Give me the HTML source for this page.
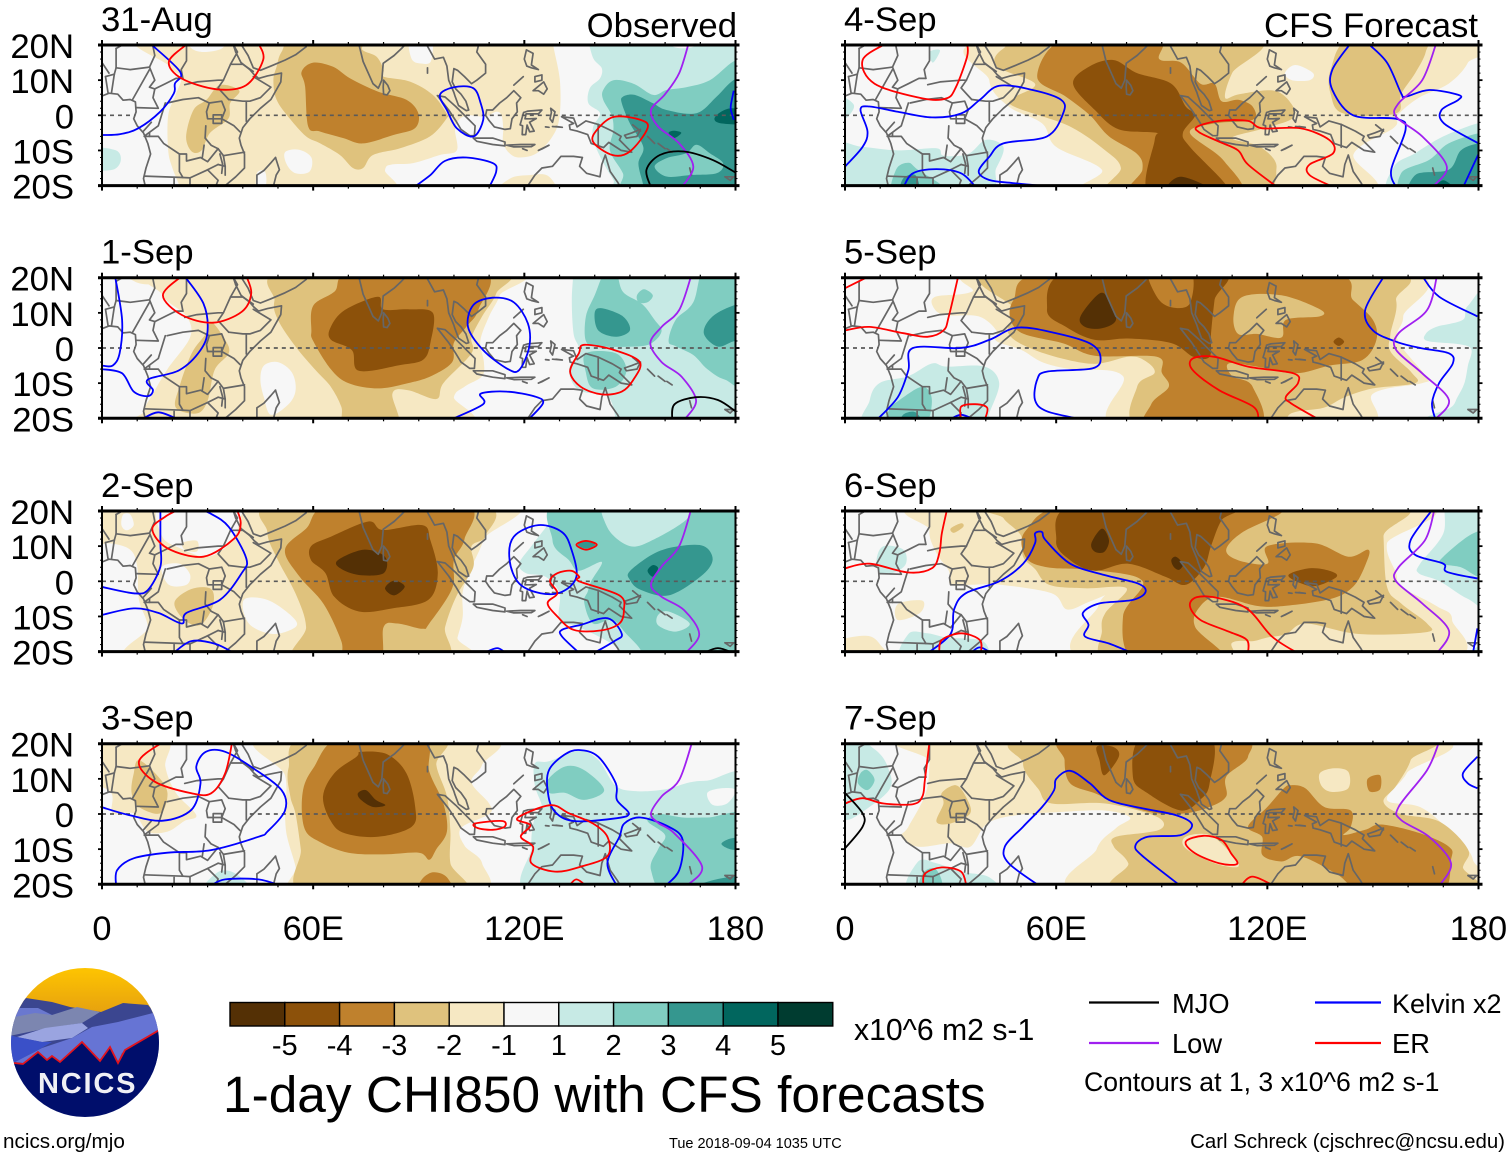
<!DOCTYPE html>
<html lang="en">
<head>
<meta charset="utf-8">
<title>1-day CHI850 with CFS forecasts</title>
<style>
html,body{margin:0;padding:0;background:#fff;width:1510px;height:1158px;overflow:hidden}
svg{display:block}
text{font-family:"Liberation Sans",Arial,sans-serif;fill:#000}
</style>
</head>
<body>
<svg id="chart" xmlns="http://www.w3.org/2000/svg" width="1510" height="1158" viewBox="0 0 1510 1158">
  <defs>
    <linearGradient id="sunGrad" x1="0" y1="0" x2="0" y2="1">
      <stop offset="0" stop-color="#ffc600"/><stop offset="1" stop-color="#e59f10"/>
    </linearGradient>
    <clipPath id="logoClip"><ellipse cx="85" cy="1042.5" rx="74" ry="74.5"/></clipPath>
  </defs>
  <g id="panels"></g>
  <g id="xlabels"></g>
  <text x="737" y="37" font-size="34.7" text-anchor="end">Observed</text>
  <text x="1478" y="37" font-size="34.7" text-anchor="end">CFS Forecast</text>

  <g clip-path="url(#logoClip)">
    <rect x="10" y="966" width="151" height="50" fill="url(#sunGrad)"/>
    <polygon fill="#3b4690" points="26,998 52,1002 70,1007 101,1012 123,1003 148,1005 161,1020 161,1075 9,1075 9,1015"/>
    <polygon fill="#6a78cf" points="18,1008 38,1008 52,1015 25,1017 10,1019"/>
    <polygon fill="#7c86b0" points="9,1018 35,1013 52,1015 77,1007 100,1012 82,1023 48,1028 9,1036"/>
    <polygon fill="#9aa4e0" points="17,1037 45,1028 82,1023 88,1028 72,1038 42,1042"/>
    <polygon fill="#6674d4" points="153,1013 161,1030 122,1053 118,1062 110,1047 100,1060 82,1042 60,1062 52,1057 47,1060 38,1052 23,1063 15,1062 42,1048 72,1038 92,1027 118,1022"/>
    <polygon fill="#3a50c8" points="9,1035 17,1037 42,1042 52,1042 38,1050 15,1062 9,1062"/>
    <polygon fill="#000e6b" points="9,1063 23,1064 38,1052 47,1060 52,1056 60,1062 82,1042 100,1061 110,1047 118,1063 125,1050 161,1029 161,1120 9,1120"/>
    <polyline fill="none" stroke="#e2141e" stroke-width="1.8" points="14,1063 23,1064 38,1052 47,1060 52,1056 60,1062 82,1042 100,1061 110,1047 118,1063 125,1050 161,1029"/>
    <text x="38" y="1093" font-size="29" font-weight="bold" letter-spacing="1.8" style="fill:#f0f0f5">NCICS</text>
  </g>

  <g id="colorbar"></g>
  <text x="854" y="1040" font-size="30.2">x10^6 m2 s-1</text>
  <text x="223" y="1112" font-size="51.4">1-day CHI850 with CFS forecasts</text>

  <g>
    <line x1="1089" y1="1002.5" x2="1159" y2="1002.5" stroke="#000" stroke-width="2.2"/>
    <text x="1172" y="1013" font-size="27.3">MJO</text>
    <line x1="1315" y1="1002.5" x2="1381" y2="1002.5" stroke="#0000ff" stroke-width="2.2"/>
    <text x="1392" y="1013" font-size="27">Kelvin x2</text>
    <line x1="1089" y1="1043" x2="1159" y2="1043" stroke="#a020f0" stroke-width="2.2"/>
    <text x="1172" y="1053" font-size="27.3">Low</text>
    <line x1="1315" y1="1043" x2="1381" y2="1043" stroke="#ff0000" stroke-width="2.2"/>
    <text x="1392" y="1053" font-size="27.3">ER</text>
    <text x="1084" y="1091" font-size="26.6">Contours at 1, 3 x10^6 m2 s-1</text>
  </g>

  <text x="3" y="1148" font-size="20.7">ncics.org/mjo</text>
  <text x="669" y="1148" font-size="14.5">Tue 2018-09-04 1035 UTC</text>
  <text x="1505" y="1148" font-size="20.45" text-anchor="end">Carl Schreck (cjschrec@ncsu.edu)</text>
</svg>

<script>
/* ---- categories & axis values ---- */
const panelLabels = ['31-Aug','1-Sep','2-Sep','3-Sep','4-Sep','5-Sep','6-Sep','7-Sep'];
const lonLabels = [[0,'0'],[60,'60E'],[120,'120E'],[180,'180']];
const latLabels = [[20,'20N'],[10,'10N'],[0,'0'],[-10,'10S'],[-20,'20S']];
const colorLevels = ['#543005','#8c510a','#bf812d','#dfc27d','#f6e8c3','#f7f7f7','#c7eae5','#80cdc1','#35978f','#01665e','#003c30'];
const colorbarLabels = ['-5','-4','-3','-2','-1','1','2','3','4','5'];
const modeColors = {mjo:'#000000',kelvin:'#0000ff',low:'#a020f0',er:'#ff0000'};
const equatorSegments = [[0,9.5],[42,180]];

/* ---- shaded regions: [colour level, [lon,lat,...]] drawn in order ---- */
const shadeAug31 = [
 [6,[-3,-9.5,4,-10,5.3,-13,3,-15.5,-3,-15]],
 [4,[16,24,19,14,22.5,11,21,6,18.8,0,18.8,-10,20,-15,22,-20,23,-23,80,-23,80.4,-15.6,82.3,-14,88.4,-13.6,96,-11.3,100.8,-10,100.3,-4,101.7,-1,104.5,0,108.8,-0.4,112,1,113.5,0,114,-3.7,114,-8,116,-11,118.8,-12,123.5,-10.8,128,-6,130,-0.4,130.1,10,128.2,20,128,24]],
 [5,[24.5,22,25.5,19,29,18,34,19,35,22]],
 [5,[87.5,22,88,16,91,14.7,93.5,15.5,93.5,22]],
 [5,[52,-10.5,56,-9.8,59.5,-12,59,-16,55,-16.5,52.5,-14]],
 [5,[44,-16.5,46.3,-16,46.5,-20,44,-22]],
 [4,[115.9,-18,121.6,-17,126.3,-17,129,-20,130,-23,112,-23]],
 [3,[55,22,51,18,49.6,13.8,48.7,10,49.6,4.4,53.4,-1,58,-6,62,-8,67.6,-11.3,71.3,-15,74.2,-15,77,-11.3,84.7,-9.4,93.2,-6,97.9,-0.9,97.9,0.5,94,5.8,87.5,9.6,80,11,80,13,78,16.7,74,18.6,73,22]],
 [3,[33.5,8.6,39,7,36.4,3.4,35.9,-1,30.7,-5,28.3,-10,25.5,-10.3,23.9,-6,26,1.5,29.7,4.4]],
 [2,[56.7,12.4,60,15,65.7,13.8,70.5,10.5,78.5,6.7,86.5,4.4,89.9,0.5,88.9,-3.7,82.8,-5.6,74.2,-8,68.6,-6.5,61.9,-4.6,58.6,-3.2,57.7,8.2]],
 [6,[138,22,139.6,16.2,142,13.4,141.5,10.5,138.6,7.7,138.2,3.4,141.5,0.6,139.6,-3.2,139.6,-7,142,-12.7,145.3,-18.4,148,-23,185,-24,185,24,138,24]],
 [5,[159,22,163,19.3,168,19.5,170,22]],
 [7,[185,17,179.4,15.3,172.7,10,166,8,160.4,7.2,156.6,5.8,151,9,145.3,10,142.4,7.2,142.4,4.4,144.8,0,145.3,-4.2,144.3,-10,148,-16.5,150,-23,185,-24]],
 [8,[148,5.3,151.4,5.8,156.6,3.4,160.4,1.5,168.9,0.6,174.6,5.3,179.4,10,185,12,185,-24,154,-24,153.8,-20,152.4,-13.7,153.8,-9,150,-2.3,147.7,3.4]],
 [7,[157,-14.6,160.4,-12.2,166,-10.8,168.9,-8.4,172.7,-10.8,176.5,-13.7,174.6,-16.5,167,-17,160.4,-17.4]],
 [9,[161,-5,162.5,-4.4,164.6,-5,162.5,-6.5]],
 [9,[174,-1,175.9,1,179,2,183,1,183,-2.3,175.9,-2.3]]
];
const shade1Sep = [
 [4,[20,22,17.3,15,24,9,25,3,18.6,-6,14.5,-13,12,-18,14,-23,100,-23,100,-14,103,-11,108,-8,108.5,-4,107.5,2,110,9,113,15,114,22]],
 [4,[6,22,10,18.6,15,18.5,17,22]],
 [5,[46,-5,50,-4,54,-7,55,-12,53,-16,48,-19,46,-14,45,-9]],
 [3,[52.6,22,49,13.5,50,8,55,0.4,60.7,-6.3,65,-11,68,-16.7,69.5,-23,84,-23,82.5,-13,87,-12,95,-14.5,97,-10,105,-1.5,105,3,108,9,112,15.5,112,22]],
 [3,[31,7.5,35,2.3,36,-1.5,32,-6.3,30,-15,27,-18.6,21,-17,22,-11,25.5,-1.5,29.5,4]],
 [2,[72,22,66,16,60,12,59.5,5,60,2,65,-6,70,-10,78.5,-11.5,87,-10,93.5,-8,99.5,-4,100,1.5,103.5,6,107,11,108,22]],
 [1,[65,6,69,10.8,78.4,14.6,79.8,11,87,11,94,10,93.3,1.5,91.3,-3.3,85,-4.8,73,-6.5,71,-0.6,65,2.4]],
 [6,[134,22,133.5,13.6,134,4,135.5,-0.6,132.7,-6.3,135.5,-12,143.6,-13.8,146,-20,147,-24,185,-24,185,24,134,24]],
 [7,[143,22,140,15,137.5,9,137.5,2,141,0.5,153,0.5,157,2,159,5,157,8,153.5,12.5,148,16,146,22]],
 [7,[152,15,154,16.7,156.5,15,155,13,152.5,13]],
 [7,[172,24,168,13,163,8,161,2,163,0.5,168,-2,172,-6,177,-9,185,-10,185,24]],
 [7,[137.5,-1.5,146,-1.5,149,-6.3,146,-11,139.5,-11.5,137.5,-7]],
 [8,[140,10,142,11.3,148,9,150,5,146,3.2,141,5]],
 [8,[185,13,180,12.3,173.5,9,171,4.2,175,0.4,180,2,185,1]]
];
const shade2Sep = [
 [4,[-4,24,-4,11,2.3,10.8,8,9,10,4.2,10.5,-5.3,13,-13,12,-23,99,-23,101,-16,102.5,-10,102.5,-3,105,4,108.5,12,112,24]],
 [5,[17,22,17,13,22,9.5,30,7,36.5,11,39,17,38,22]],
 [4,[23,11,27,11.5,27,8.5,23.5,9]],
 [5,[17,4,22,5,25,2,24,-1,19,-1]],
 [5,[6,19,8,19,9,16,7,14.5,5.5,16]],
 [5,[40.3,-5.3,47,-5.3,54,-10,55,-13,48.5,-15,41.7,-12]],
 [3,[50,22,47,14,50,6,55,-3.5,58,-13,56,-23,96,-23,97.5,-13,100.8,-4,105.5,4,105,10,109,13,107,22]],
 [3,[20.6,-6,25.4,-2.2,31,-2.2,31.5,-7,28,-12.4,23.4,-11]],
 [2,[66,22,58,15,52,9,56,1.5,63,-6.5,68,-17,69,-23,79,-23,80,-13,84,-12,91,-13.5,93,-12,99.5,-2,100,6,103,12,103,22]],
 [1,[59.4,10,65,12.7,75.7,17,79.8,14.6,91,16,93.3,11.7,95.4,2.3,92.7,-5.3,82.5,-7.7,73,-8.6,66,-4.4,63.5,2.3,59.4,6]],
 [0,[67,6,74.3,9,80.4,7,80,2.3,73,1.8,67.7,3.7]],
 [0,[80.4,-2,83,0.2,86,-1.5,83,-4]],
 [6,[131,22,127,16.5,122,10,118.5,5,120.5,2.3,126,1.3,130,-3.4,130,-11,135.5,-13,146,-18.6,149,-24,185,-24,185,24,131,24]],
 [7,[132,24,128,11.7,132.7,6,135.5,3,142,5.5,139,0,138,-3,137,-6,139.5,-12,145,-11,149,-15,153,-19.5,154,-24,185,-24,185,24]],
 [6,[144,24,143.5,15.5,150,10,157,12,166,17.5,168,22,168,24]],
 [6,[158,-9.6,161,-8.6,167,-12,163,-14.3,158,-12.5]],
 [8,[150,2.9,157,8,164,10,171,10,173.5,6,170,1.3,161,-4,153,-2.4,150,0.4]],
 [9,[155,3,156.5,4.6,158,3.7,156.5,1.3]],
 [8,[135.2,10.4,137.5,11.5,140.2,10.4,137.5,9.3]]
];
const shade3Sep = [
 [4,[-4,24,18,22,18,13.5,21,6,26.8,-0.3,23.4,-2,18.6,-5,13,-5,9,0.2,3,0.2,2.6,6,-4,11]],
 [3,[10.5,15.3,16,10.6,18.6,5.9,16.6,0.2,10.5,2,8.4,6,9,11.5]],
 [4,[46,22,52,11,52,0,52.6,-6.5,55,-15,56.5,-23,106,-23,108,-14,103,-9,102,-4,110,0,110,3,105,9,108,14,109,22]],
 [3,[58,22,53,13,53.5,5,55,0,56.5,-10,58,-23,102,-23,99,-14,99,-5,98,5,95,14,96,22]],
 [2,[68,22,60,13,57,6,57.5,-4,62,-8,70,-11,80,-11.5,90,-11,93,-13,95,-10,98,-5,97,3,93,12,91,22]],
 [1,[73.6,17.7,81,17,86.5,11.6,89,2,88,-3.6,78.4,-6.5,69,-5.5,65,-2,62.8,5,66,11.6,72.3,16.3]],
 [0,[72.7,5.9,75,6.8,77.8,4,80.5,2.5,77,2,73.6,4]],
 [2,[90.6,-19,94,-16.6,98,-18,99.5,-23,90,-23]],
 [6,[123,14.4,127,15,135.5,18,141,15.4,146,8,152,6.5,160,7,167,9,172,9.5,185,10,185,-24,124,-24,122,-9.4,123,-0.8,125,2,123,8]],
 [5,[172,6,173.5,2.6,177.6,3,180,6.8,176,7.3]],
 [7,[126.6,9.6,131.6,13.5,137,12.5,142.7,6.8,137,4,131.6,6,127,6]],
 [7,[158,0,165,-1,172,-1,185,-1,185,-24,162,-24,156,-16,158,-10,160,-6,155,-2]],
 [6,[29,-22,33,-16.5,38,-17,42,-22]],
 [8,[176,-8.5,178.5,-7,182,-7,182,-10,178.5,-10]],
 [8,[167,-22,175,-18.5,185,-18,185,-24]]
];
const shade4Sep = [
 [4,[45,22,41,10,46.5,2.5,56,-2.3,60,-9,73,-15.5,70,-23,147,-23,144.5,-11,156,-3.5,157,0,163,5,171.5,9,177,15,178,22]],
 [5,[125,12,128,14.3,133,12,132,10,127,10]],
 [3,[55,22,45,19,43,14,54,9,48,5,48,2.5,63.5,-3,73.7,-9.8,78.4,-15,75.7,-23,116,-23,122.6,-15,118,-9,110,-6.5,118,-4,127,-1,127,3,122,7,112,6,108,5,110,12,116,22]],
 [3,[143.7,22,138,13,138,6,141.7,0.5,156.5,0.5,158,6,162,12,165,18,164,22]],
 [2,[62.8,22,54.6,11,62.8,5.3,69.6,0,75,-6,83,-11,84.5,-15.5,81.8,-23,111.7,-23,107.7,-13,98,-5,105,-2.3,115.8,-1.3,115.8,2.5,111.7,4.4,107,4,105,9,101,9,95.5,15,89.3,16,88.6,22]],
 [1,[64.8,9,69.6,14,76.4,15.7,83,12,92.7,9,96.8,2.5,99.5,0,96,-5,98,-9,108,-19.5,108,-23,86.6,-23,88,-7,88.6,-5,77.8,-4,71,1.5]],
 [0,[91.4,-21,95.4,-17.5,103.6,-21,97,-23]],
 [6,[-3,-8.5,5,-9,15,-10,26,-9.4,28,-11.5,35,-11,40,-7,45,-9,43,-15,38,-23,-3,-23]],
 [7,[14.5,-15.5,18,-13.5,20.7,-15.5,27.5,-20,28,-23,14,-23]],
 [8,[16.5,-18,20,-17,21,-22,16,-22]],
 [6,[24,18,27,18.5,25,15]],
 [6,[-3,6,2.5,3,0,-1,-3,0]],
 [6,[156,-23,156,-14.6,162,-10.8,170,-6,180,-2.2,185,-2,185,-24]],
 [7,[158,-16.5,166,-12.7,171.5,-8,180.4,-5,185,-5,185,-24,160,-24]],
 [8,[162,-17,171.5,-15.5,175,-10,180,-8,185,-8,185,-24,162,-24]],
 [9,[167.5,-21,170,-18.5,173,-21]]
];
const shade5Sep = [
 [4,[43,22,36,16,25.5,14.5,25.5,11,29,9.3,38,9,43,5,43,2,50,-0.5,56,-4,64,-6,79,-8,78.4,-23,145.7,-23,150,-13,164,-10,165,-8,157,2.3,158.6,9,157,22]],
 [3,[45,22,48,11,46.5,4,55,-1,70,-4.5,80.5,-2.5,85,-3.5,88,-7,83,-11,84,-23,120,-23,127,-18.5,136,-17,142,-14,150,-11.5,162,-10,161,-7,155,-1,155,4,156.6,13.6,151,22]],
 [2,[60,22,47.8,13.5,49,5,62,1.3,71,-2.2,88.6,-2.5,90,-7,92,-11,87,-16,87,-23,117,-23,115.8,-11,110,-8,109,-4.4,117,-5.3,128,-7.2,137.6,-5,147,-3.4,151,2.3,150,8,144.4,13.6,134.8,22]],
 [3,[110.4,9,113,14.6,124,15,134.9,11,134.9,9,125.3,8,124,3,117,4,111.7,4]],
 [1,[64,22,57.4,11,62.8,6,71,2.3,80.5,2.7,92.7,1.4,99,-2.5,103.6,-2.5,104,4,105,13.6,106.3,22]],
 [2,[86.6,22,88.6,14.6,92.7,11.6,98,12.7,98,22]],
 [0,[66.9,9,72.3,15.5,75,13.6,77,8,73,5.6,68.2,6]],
 [1,[138.8,1.8,140.3,3,141.8,1.8,140.3,0.6]],
 [6,[7,-15,9.8,-10,18,-8,24.7,-4.4,28.8,-5.3,39.7,-5.3,43.8,-10,41,-18.6,39.7,-23,7,-23]],
 [7,[12.5,-17.6,15.2,-15,22,-11,24.7,-15,22,-23,12,-23]],
 [8,[16.5,-19,20,-18.3,22,-22,16,-22]],
 [6,[185,17,177,12,175.5,8,168,6,165,4,165.5,2,175,1,178,-0.5,177,-5,176,-10,174,-14,172,-17,165,-20,165,-24,185,-24]]
];
const shade6Sep = [
 [4,[28,22,24,14.6,26,8,29.5,3,30,-1,36,-1,44,-1,58.7,-3.4,63,-8,69,-6,76,-3,77,-2,72,-7,71,-23,168,-23,172.5,-11,168,-7,158,-1.5,156.6,2.3,154,10.8,160,22]],
 [4,[15,-6.5,22,-5.5,21.3,-9,15,-11]],
 [4,[-3,-23,-3,-17.5,6,-15.5,10,-18,12,-23]],
 [3,[30,15,33,16.5,33.6,15.5,31,13.8]],
 [3,[45,22,45,18,50,13,50.6,7,54,3.5,58,-1,68,-2,80,-2,74,-9,73,-14,75,-23,108,-23,110,-17.5,116,-17,120,-16,125.4,-15,131,-12,146,-15,165,-14.5,165.4,-12,158,-6.3,154,-1.5,153,12.7,152.6,22]],
 [2,[65.5,22,51.5,14.6,51.3,7,57.4,4,71,3.2,84.6,0,79,-10,83,-23,108,-23,99.5,-13,101,-7,106.3,-4.4,117,-7,125,-7,138,-5,144.4,-1.5,148,5,148.7,9,143,7,133.5,10.8,120,10,120,5,111.7,6,108.3,9,113,14,124,19.5,121.3,22]],
 [1,[66,22,60,11.7,64,6,71,3,80.5,5,91,1.3,96.8,-1,102,4,104,10,107,17.4,111.7,22]],
 [0,[70,10.8,73,15,75,11.7,73.7,8.4,71,8.4]],
 [0,[92.7,6,94,7,96,5,95,3.3,93.5,4]],
 [1,[126,1.8,132,3.7,137.6,3,139.7,1.3,134,-1.3,129.6,-0.6]],
 [6,[9,6.5,11,10,16.6,9,17.3,5,14,2.5,9.8,2.5]],
 [6,[18,-15,23.4,-14.8,29,-16,38.3,-16.7,41,-19.5,42,-23,17,-23]],
 [6,[171.6,24,170,13.6,163.4,5,163,2.3,169,0,177,-5,185,-7,185,24]],
 [7,[178.4,13.6,170,7,169.4,5,175,4,180,1.3,185,1,185,14]],
 [6,[176,-23,179,-19,182,-19,182,-23]]
];
const shade7Sep = [
 [4,[24,22,24,15,23,6,18,-3.6,16,-6.5,20.7,-9.3,30,-8.3,35.6,-9.3,40.4,-2.7,49,-0.3,60,0.5,73.7,1,81,-1,77,-4,71.5,-10,70,-23,175,-23,178.4,-13,171.5,-4.5,163.4,2,154,4,159.6,11.6,163.4,22]],
 [3,[56,22,50.6,14.4,55,7,58.7,3,74,3,88.6,-0.8,89.3,-4.5,77,-6.5,76.4,-9.3,80.5,-14,82,-23,173,-23,175.6,-15,177,-10,169,-2.2,158,0,153,3.5,156.6,8,160.7,15.3,160.7,22]],
 [3,[27.5,6,31.5,8.2,34.3,5,35.6,0.2,30,-2.7,26,-2.2,28,3]],
 [4,[134.9,11.6,139,13,143,12,143,7.3,138.2,6.3,135.4,8]],
 [4,[96.8,-6.5,103.6,-6,109.7,-11.2,111.7,-15,105,-14,96.8,-9.8]],
 [2,[148.5,10,152,11,152,7,149,6.5]],
 [2,[64,22,62.4,15.3,64,8.7,71,5.9,77.8,3,88.6,0.2,96.8,0.2,103.6,2,108.3,5,108.3,10.6,114.5,16.3,110.4,22]],
 [1,[71.6,19.2,76.4,19,77.8,16.3,73.7,11,72.3,15.3]],
 [1,[84.6,22,81.8,10.6,86,5.9,95.4,1,100.9,4,103.6,8.7,103.6,22]],
 [2,[126.7,8.2,130.8,7.3,136.2,2,143.7,1,143.7,-3.7,141.7,-6,147.8,-4.5,152.5,-3,163.4,-5.5,171.6,-9.3,172.2,-13,168.8,-23,148.5,-23,139.6,-17,129.4,-12,124,-13.5,118.6,-11.7,118.5,-6.5,114.5,-3.6,120,2,124.7,7.3]],
 [6,[-3,24,8.4,18.4,12.5,12.5,12.5,6.8,4.4,0.2,0.3,-1.7,-3,0]],
 [7,[4.4,11.6,6.4,12.5,8.4,9.7,6.4,6.8,3.7,8.7]],
 [6,[18.6,-23,20.7,-13.6,26,-14,33,-16.4,41,-18,43,-23]],
 [7,[22,-17,25.4,-15.5,27.5,-19,27,-23,21,-23]]
];

/* ---- contours: [mode, closed, [lon,lat,...]] ---- */
const contourAug31 = [
 ['kelvin',0,[0,-5.6,5,-5.4,10.3,-3.7,16.5,1,20.4,6.2,20.7,9,22.2,12.4,13.6,20.5]],
 ['kelvin',1,[96,5.8,100,8,105.5,7.7,107.6,3.4,108.3,-1.3,105.6,-6,100.8,-3.7,98,1.5]],
 ['kelvin',0,[88.6,-20.5,93.3,-17,97.4,-13,103.5,-12,111,-13.6,112,-16,110,-20.5]],
 ['kelvin',0,[179.5,7,178.7,3,178.7,1.5,179.5,-1.3]],
 ['er',0,[24.5,20.5,19,15.3,22.6,10.5,32.6,7.4,41,8.6,45.8,15.8,44.4,20.5]],
 ['er',1,[145.6,-0.4,153,-1.3,155,-3.7,150,-10.3,145,-11.3,139.5,-7.5,141,-3.7]],
 ['low',0,[166.7,20.5,164,12,160,6,156,1.5,158,-3.2,164,-8,168,-14.6,164.7,-20.5]],
 ['mjo',0,[156,-20.5,154.7,-15.5,158.5,-11.3,165.4,-10.3,173.5,-12.7,180,-16.3]]
];
const contour1Sep = [
 ['kelvin',0,[3.7,20.5,5.7,8,5,-1.5,3,-5,0,-5]],
 ['kelvin',0,[0,-6,5.7,-7.2,9,-12.4,13,-13.7,14.5,-12,13,-9,22,-6.3,28,-0.6,30,5,28.8,12.7,23.4,20.5]],
 ['kelvin',0,[11,-20.5,16,-18.3,22,-20.5]],
 ['kelvin',1,[111,14.3,117,13,121,7,121.4,0.4,118.5,-6.3,115,-5.8,108.3,-0.6,104,6,105.5,12.2]],
 ['kelvin',0,[98.8,-20.5,108.3,-16,107.6,-13,115,-12.4,123,-13.8,125.3,-15.7,121,-20.5]],
 ['er',0,[22.7,20.5,17.3,15,22.7,9.4,31.5,7.2,39.7,10.3,42.4,15.5,41,20.5]],
 ['er',1,[137,0.9,145.6,-0.6,152.8,-4,151,-9,147.7,-12.4,142,-13.2,136,-11,133,-6.7,135.5,-1.5]],
 ['low',0,[167.4,20.5,164,10.8,159,6,155.8,1.3,159,-4,164.7,-8.2,168.8,-15,165.4,-20.5]],
 ['mjo',0,[162,-20.5,162.7,-16,168.8,-14,175,-14.8,180,-18]]
];
const contour2Sep = [
 ['kelvin',0,[16.6,20.5,16.6,10.8,16.6,4.2,13,-2.5,9,-3.4,0,-1.6]],
 ['kelvin',0,[0,-9.6,9,-7.7,16,-9,22.7,-12,24,-9,33.5,-5.3,39.7,2.3,41,6.5,36,15.5,30.8,19.3,27.4,20.5]],
 ['kelvin',0,[20.2,-20.5,25.4,-17,32.2,-17.8,37.6,-20.5]],
 ['kelvin',1,[124,16,130.7,14,133.4,9,134.8,1.3,130.7,-3,124.6,-3.4,118.5,-0.6,115.8,6,117,12.7]],
 ['kelvin',0,[135.7,-20.5,130.7,-15.7,130.7,-13.8,136,-12.4,143.7,-10.5,147.7,-15,145.6,-17,139.6,-20.5]],
 ['kelvin',0,[108.3,-20.5,112.3,-19,114.8,-20.5]],
 ['er',0,[22,20.5,18,18.4,14.3,14.8,18.6,9.4,28.8,7,37.6,12.2,39.4,16.5,38.3,20.5]],
 ['er',1,[127.3,0,129.4,2.3,133.4,3,135.6,1.3,135.6,0,147,-4,148.3,-8.2,147,-12,141.6,-14,134,-13.8,129.4,-10,126.6,-6.2,129.4,-3.4]],
 ['er',1,[134.8,10.4,137.5,11.5,140.6,10.4,137.5,9]],
 ['low',0,[167.4,20.5,164,10,159,4.2,156,-1,159,-4.4,165.4,-8.2,169.7,-15,165.8,-20.5]],
 ['mjo',0,[170.8,-20.5,175,-19,179.6,-20.5]]
];
const contour3Sep = [
 ['kelvin',0,[0,1.9,7.7,-0.3,17.3,-1.9,25.4,1.2,28,8.7,26.8,13.5,29.5,17.7,35,17.7,43,13,51,6.8,52,1,47,-5,44.4,-6.5,30.8,-10.3,18.6,-11,9,-12.6,4.3,-16,4,-20.5]],
 ['kelvin',0,[30.8,-20.5,35,-18.6,44.4,-18.6,51,-20.5]],
 ['kelvin',1,[135.5,18.2,141,16.3,146,8.7,146.3,4,149.7,0.2,146.3,-1.2,134,-2,128.4,1,126.6,6.8,127,12.5,131.3,16.8]],
 ['kelvin',0,[146.3,-20.5,143.6,-14,147,-6.5,148.4,-2.7,153,-1,161,-3.6,165,-7.4,164,-16,160,-20.5]],
 ['er',0,[17.3,20.5,10.5,15,15,9.2,25.4,5.9,31,5.9,35,11.6,37,20.5]],
 ['er',1,[106,-2.7,113.7,-2,114.4,-3.6,111,-4.5,106.8,-4]],
 ['er',1,[118,-1.2,127.3,2.5,132.7,0.2,139.5,-2.7,143.6,-6.5,143.6,-12,136,-15,128.7,-16.4,122,-14,122.5,-9.3,119,-6.5,121.7,-3.2]],
 ['er',0,[132.7,-20.5,134.8,-18.6,137.6,-20.5]],
 ['low',0,[167.7,20.5,164,9.7,159,5,156,0.2,158,-2.5,162.6,-5.5,170.5,-15,166,-20.5]]
];
const contour4Sep = [
 ['kelvin',0,[0,-14.6,5,-9,6.4,-4.6,4.4,1.6,7,2.5,15,1,24.7,-0.6,33,0.5,38.3,4.4,43.8,8.4,53.3,7.2,61.4,4.4,62,0.6,57.4,-6,45,-8,41,-11.8,38,-16,41,-18.4,47.8,-19.3,61.4,-20.5]],
 ['kelvin',0,[16.6,-20.5,19.3,-16.5,26,-15.3,33,-16.5,37.2,-20.5]],
 ['kelvin',0,[143.7,20.5,138.5,13,138.5,7.2,144.4,0,156.6,-1,159.3,-4,155.2,-15.5,156.6,-20.5]],
 ['kelvin',0,[148.5,20.5,154,15,158,6.3,159.3,5.3,166,7.2,174.3,5.8,174.3,4.4,169.5,1.5,170.2,-2.3,180,-8]],
 ['kelvin',0,[175.6,-20.5,180,-11]],
 ['er',0,[11.8,20.5,5,15.7,8.4,9,22,4.8,28.8,4.8,31.5,8,34.7,16.7,34.7,20.5]],
 ['er',0,[139,-20.5,132,-17,132,-14,138.7,-10.8,137.6,-7,129.4,-3.7,118.5,-3.7,114.5,-1.6,106.3,-1.6,100,-3.3,100.9,-5,106.3,-7.5,111.7,-10,114.5,-14,122.9,-20.5]],
 ['low',0,[168,20.5,164,10,157.3,3.4,156.6,-0.4,164,-6,171,-14.6,166.8,-20.5]]
];
const contour5Sep = [
 ['kelvin',0,[9,-20.5,15,-14,18,-6.3,19.3,0,33,0,41,2.3,49,5.8,60,4.2,69.6,1.3,72.6,-2.5,70.3,-5.8,57.4,-6.7,54.6,-9,54,-14.8,57.4,-18,68.2,-20.5]],
 ['kelvin',0,[29.5,-20.5,33,-19,37,-20.5]],
 ['kelvin',0,[153.2,20.5,147.8,10.8,150,5,156.6,1.8,163.4,0,171.6,-1.5,172.7,-4.4,168.8,-10,166.8,-15.7,167.8,-20.5]],
 ['kelvin',0,[164,20.5,168.8,14.6,179.7,9]],
 ['er',0,[0,17,6,20]],
 ['er',0,[0,5,7,6,16.6,4.2,23.4,3.2,28,5,29.5,9,32.2,20.5]],
 ['er',0,[33,-20.5,33,-16.7,37,-16,40.4,-17,39.7,-20.5]],
 ['er',0,[117.5,-20.5,116,-16.7,106.3,-12,98.8,-6.3,98.8,-3,105,-2.5,114.5,-5.3,127.4,-7.2,128.7,-10,125.3,-13.8,126.7,-15.7,134.9,-20.5]],
 ['low',0,[168.2,20.5,165.4,10.8,157.3,4.2,156.6,-0.5,164,-7.2,171.6,-14.8,167.5,-20.5]]
];
const contour6Sep = [
 ['kelvin',0,[23.4,-20.5,30,-15,31,-8,34.3,-3.4,43.8,0,50.6,5,54,10.8,54,13.6,56,14,57,11.7,64,5,73.7,1.8,83.2,-0.6,85.4,-3,81.8,-5.3,72.3,-6.3,67.6,-9,69.2,-12.4,68.2,-15.7,75,-17.7,81.8,-20.5]],
 ['kelvin',0,[35.6,-20.5,38.3,-18.8,41.7,-20.5]],
 ['kelvin',0,[167,20.5,160.7,11.7,162,7.5,170,5,171,2.7,179.7,0.8]],
 ['kelvin',0,[178.4,-20.5,179.7,-13.4]],
 ['er',0,[0,3.7,7,5,18,2.5,24.7,3.7,26.8,8,27.5,13.6,29,20.5]],
 ['er',0,[26.8,-20.5,27.5,-16.7,33,-14.8,38.3,-16.7,38.6,-20.5]],
 ['er',0,[114.5,-20.5,114.2,-16.7,109,-14.3,101,-11,98,-7,100,-4.5,106.3,-4.8,114.5,-8,121.3,-15.7,128.7,-20.5]],
 ['low',0,[167.5,20.5,164.8,11.7,157.3,4,156.6,0,164,-6.3,171.6,-14,168.2,-20.5]]
];
const contour7Sep = [
 ['kelvin',0,[55.3,-20.5,46.5,-14,45.4,-9.3,50.6,-3.6,56,2,59.4,6.8,60,10,64,12.3,69.6,8.7,75,4,84.6,1.6,94,-0.3,98.6,-3,95.4,-6,86,-6.5,82.5,-9,84.6,-12,95.4,-20.5]],
 ['kelvin',0,[179.7,16.3,175.6,11.6,177,8.7,179.7,7.3]],
 ['er',0,[24,20.5,22.7,9.7,22,5,19.3,2.8,11,3,5,4.5,0,3]],
 ['er',0,[22.3,-20.5,22.7,-17,27.5,-15.2,33,-16.4,34.5,-20.5]],
 ['er',1,[96.8,-7.9,101.8,-6.2,107,-7.4,109.7,-11.2,111.4,-14.2,106.3,-14,99.5,-11.2]],
 ['er',0,[112.4,-20.5,115.8,-17.8,122,-20.5]],
 ['low',0,[168.8,20.5,165.4,12.5,157.3,2,158,-1.7,166,-6.5,172.2,-14,168.8,-20.5]],
 ['mjo',0,[0,6,5,0.2,5,-3.6,0,-9.8]]
];

/* ---- coastlines & borders (lon,lat polylines) ---- */
const coastLines = [
 [0,5.5,2,6.3,4.5,6,6,4.3,8,4.5,9.5,3.8,9.7,1,9,-1,10,-3,11.8,-5,13,-8,13.8,-11,12.5,-15,11.8,-18,12.5,-21],
 [38,18,39.5,15,42,13,43.2,11.6,44.5,10.5,47,11.2,51,12,50.8,9.5,48,4.5,45,2,42,-1,40,-3.5,39,-6.5,39.5,-8.5,40.5,-11,40.5,-15,38,-17.5,35,-20,34.5,-21],
 [38,18,37,21],
 [39,21,41.5,17,43,13.5,45,12.8,48,14,52,15.7,55,17.2,58,19.5,58.5,21],
 [49.3,-12,50.4,-15.5,49.5,-17,48.5,-21],[49.3,-12,48,-13.5,46,-15.7,44,-17,44,-21],
 [72.8,21,74.2,15.3,77,9,78.5,7.7,79.5,10,79.9,14.8,83,17,85.1,19,87,21],
 [80,10,81.2,8.5,81.8,7,81,5.8,80,6,79.9,8,80,10],
 [92.5,13.5,92.5,12],
 [91,21.5,92,20.5,94.5,16,97,16.5,98,14,98.5,10,100,6.5,100.3,5.5,101.3,2.8,103.5,1.3,104.2,1.5,103.4,4,102,6,100.5,7.5,99.5,9.5,100,13.3,101,12.8,103,11,105,9,106.5,10,109,12,109,14.5,106.5,18,107,20,108,21.5],
 [120.6,18.6,122.5,17.6,122,14.3,124,13,122,13.5,120.7,14,120,16,120.6,18.6],
 [122.5,7,125.5,9.5,126.5,7.5,125.5,6,124,7,122.5,7],
 [123,11,125,11.5,125,10,123,9.5,123,11],
 [117,8.6,119.7,11],
 [95.3,5.6,97.5,5.2,100.5,2.5,103.5,-0.5,106,-3,105.8,-5.8,104.5,-5.8,102,-4,100.5,-1.5,98.5,1.5,95.3,5.6],
 [105.5,-6.5,108.5,-6.5,111,-6.5,114.5,-7.6,114.5,-8.7,111,-8.3,106.5,-7.4,105.5,-6.5],
 [115,-8.5,119,-8.3,123,-8.3,122,-8.9,117,-9,115,-8.5],
 [124,-10,127,-8.5,125,-9.6,124,-10],[119.5,-9.5,120.8,-10],
 [109.3,1.5,111,1.5,113,3.5,115,5,117,7,119,5,117.8,3.5,118,1,116.5,-1,116,-3.8,114.5,-4,111.5,-3.3,110,-1.5,109,0,109.3,1.5],
 [119.8,0.8,121,1.2,125,1.5,124,0.4,120.5,0.4,120.2,-1,121.5,-1,123.4,-0.9,121.5,-2,122.8,-4.5,121.5,-4.7,120.8,-2.8,120.4,-5.5,119.4,-5.5,119.5,-3,118.8,-2.7,119.8,0.8],
 [127.5,2,128.7,1,128,-2,127.3,-1,127.7,0.8,127.5,2],[128,-3.2,130.8,-3.4,129,-3.2],[126,-3.3,127,-3.4],
 [130.6,-0.4,134,-0.8,135,-3.3,137.5,-1.6,141,-2.6,145,-4.5,147.5,-6,147,-7,150.5,-10.5,147.5,-10,144,-7.7,142.5,-9.2,139,-8,138,-5.5,135,-4.5,133,-4,132.8,-2.8,134,-2.3,130.6,-0.4],
 [141,-2.6,141,-9.1],
 [148.5,-5.7,150.5,-5,153,-4,152,-6,149,-6.5,148.5,-5.7],[150.8,-2.7,153,-4.5],
 [155,-6,157,-8],[158,-8,160,-9.5],[160.5,-9.5,162,-10.5],[167,-15,167.5,-17],
 [177,-17.5,179.5,-17.5,178.5,-18.5,177,-17.5],
 [119,-21,121,-20,123,-17,125,-15,128,-14.5,130.4,-11.7,134,-11.7,136.5,-12,135.7,-14.5,137.7,-16.5,141.5,-17.5,142,-14,143,-11.3,144.4,-16,146.5,-19,147.6,-21],
 [3.5,11.7,4,13.5,8,13,13.5,13.7],[3.5,11.7,2.7,6.4],[1,11,1.7,6.5],[1,11,3.5,11.7],[0,15,2,12],[4,19,4,15.5,4,13.5],
 [4,19,12,23.5],[14.2,21,15,17,13.5,13.7,15,10,13.5,8,15,7.5],
 [24,21,24,15.5,22.5,13,23,10.5],[15,7.5,18,9,21,10.5,23,10.5],[23.5,8.7,27,9.5,33,10,34.5,10],
 [18.5,3.5,23,4.5,27.4,5,30.5,3.5],[36.8,21,38.5,18,36.5,14.5,34.5,10,33,7.8,36,4.5],[36.5,14.5,40,14.5,43,12.5],
 [43,11,48,8,45,5,42,4,40,4,36,4.5],[41,3.9,41,-1.7],[34,-1,37.5,-3,39.2,-4.7],
 [30.5,3.5,34,4,35,1.5,34,-1,30,-1,29.7,1,30.5,3.5],[29.5,-3,29.3,-6.5,31,-8.5,33,-9.5,34.5,-11.5,40.5,-10.5],
 [31.6,0.1,34,0.1,34,-2.3,31.6,-2.3,31.6,0.1],[33.5,-11,34.3,-14],[34.3,-14,34,-16.5],
 [22,-11,24,-11,24,-13,28,-12,30,-13.2,33,-9.5],[29,-8.5,28.5,-12],[12,-6,16,-6,17.5,-8,22,-11,22,-13,22,-16,23,-17.7],
 [12,-17.3,23,-17.7,25,-17.8,30,-15.5,33,-18.5,32,-21],[34.5,-11.5,35,-14.5,33,-14],[35,-14.5,35,-17],[30,-15.5,33,-14],
 [14,-2,11.8,-4.5],[8.7,4.5,13.5,13],[9.8,2.2,16,2,14.5,5,15,7.5],[18,3.5,16,-3,12.2,-5.8],[25,-17.8,25,-21],[20.5,-18,20.5,-21],[13.5,-6,13.5,-5]
];

const panelX = [102,845];
const panelY = [45,277.7,511,743.7];
const panelW = 633.5, panelH = 140.6;
const shadeSets = [shadeAug31,shade1Sep,shade2Sep,shade3Sep,shade4Sep,shade5Sep,shade6Sep,shade7Sep];
const contourSets = [contourAug31,contour1Sep,contour2Sep,contour3Sep,contour4Sep,contour5Sep,contour6Sep,contour7Sep];
const NS = 'http://www.w3.org/2000/svg';

function make(tag, parent, attrs){
  const el = document.createElementNS(NS, tag);
  for (const k in attrs) el.setAttribute(k, attrs[k]);
  parent.appendChild(el);
  return el;
}
function lonScale(lon, px){ return px + lon/180*panelW; }
function latScale(lat, py){ return py + (20-lat)/40*panelH; }
function smoothPath(pts, closed, px, py){
  const P = [];
  for (let i=0;i<pts.length;i+=2) P.push([lonScale(pts[i],px), latScale(pts[i+1],py)]);
  const n = P.length;
  const get = i => closed ? P[(i+n)%n] : P[Math.max(0,Math.min(n-1,i))];
  let d = 'M'+P[0][0].toFixed(1)+' '+P[0][1].toFixed(1);
  const segs = closed ? n : n-1;
  for (let i=0;i<segs;i++){
    const p0=get(i-1),p1=get(i),p2=get(i+1),p3=get(i+2);
    const c1=[p1[0]+(p2[0]-p0[0])/6,p1[1]+(p2[1]-p0[1])/6];
    const c2=[p2[0]-(p3[0]-p1[0])/6,p2[1]-(p3[1]-p1[1])/6];
    d+='C'+c1[0].toFixed(1)+' '+c1[1].toFixed(1)+' '+c2[0].toFixed(1)+' '+c2[1].toFixed(1)+' '+p2[0].toFixed(1)+' '+p2[1].toFixed(1);
  }
  return d+(closed?'Z':'');
}
function straightPath(pts, px, py){
  let d='';
  for (let i=0;i<pts.length;i+=2) d+=(i?'L':'M')+lonScale(pts[i],px).toFixed(1)+' '+latScale(pts[i+1],py).toFixed(1);
  return d;
}

const svg = document.getElementById('chart');
const panelsG = document.getElementById('panels');
const defs = svg.querySelector('defs');

panelLabels.forEach((label, idx)=>{
  const col = idx<4 ? 0 : 1;
  const px = panelX[col], py = panelY[idx%4];
  const clip = make('clipPath', defs, {id:'clip'+idx});
  make('rect', clip, {x:px,y:py,width:panelW,height:panelH});

  const g = make('g', panelsG, {});
  
  

  const inner = make('g', g, {'clip-path':'url(#clip'+idx+')'});
  
  

  const bg = make('rect', inner, {x:px,y:py,width:panelW,height:panelH,fill:colorLevels[5]});
  
  

  shadeSets[idx].forEach(s=>{
    const shape = make('path', inner, {d:smoothPath(s[1],true,px,py),fill:colorLevels[s[0]]});
    
    
  });

  coastLines.forEach(c=>{
    const coast = make('path', inner, {d:straightPath(c,px,py),fill:'none',stroke:'#666666','stroke-width':1.7,'stroke-linejoin':'round','stroke-linecap':'round'});
    
    
  });

  equatorSegments.forEach(seg=>{
    const eq = make('line', inner, {x1:lonScale(seg[0],px),x2:lonScale(seg[1],px),y1:latScale(0,py),y2:latScale(0,py),stroke:'#5a5a5a','stroke-width':1.7,'stroke-dasharray':'4 4'});
    
    
  });

  contourSets[idx].forEach(c=>{
    const line = make('path', inner, {d:smoothPath(c[2],!!c[1],px,py),fill:'none',stroke:modeColors[c[0]],'stroke-width':1.8});
    
    
  });

  /* frame and ticks */
  const frame = make('g', g, {stroke:'#000'});
  
  
  make('line', frame, {x1:px,x2:px,y1:py,y2:py+panelH,'stroke-width':2});
  make('line', frame, {x1:px+panelW,x2:px+panelW,y1:py,y2:py+panelH,'stroke-width':2});
  make('line', frame, {x1:px-4,x2:px+panelW+4,y1:py,y2:py,'stroke-width':3});
  make('line', frame, {x1:px-4,x2:px+panelW+4,y1:py+panelH,y2:py+panelH,'stroke-width':3});
  for (let lon=0; lon<=180; lon+=10){
    const major = lon%60===0, x = lonScale(lon,px), len = major?5:3;
    make('line', frame, {x1:x,x2:x,y1:py-len,y2:py,'stroke-width':major?2:1.2});
    make('line', frame, {x1:x,x2:x,y1:py+panelH,y2:py+panelH+len,'stroke-width':major?2:1.2});
  }
  for (let lat=-20; lat<=20; lat+=2){
    const major = lat%10===0, y = latScale(lat,py), len = major?4:2;
    make('line', frame, {x1:px-len,x2:px,y1:y,y2:y,'stroke-width':major?1.8:1});
    make('line', frame, {x1:px+panelW,x2:px+panelW+len,y1:y,y2:y,'stroke-width':major?1.8:1});
  }

  const title = make('text', g, {x:px-1,y:py-14,'font-size':34.7});
  title.textContent = label;
  
  

  if (col===0){
    latLabels.forEach(t=>{
      const tick = make('text', g, {x:74,y:latScale(t[0],py)+13,'font-size':34.7,'text-anchor':'end'});
      tick.textContent = t[1];
      
      
    });
  }
});

const xg = document.getElementById('xlabels');
panelX.forEach(px=>{
  lonLabels.forEach(t=>{
    const tick = make('text', xg, {x:lonScale(t[0],px),y:940,'font-size':34.4,'text-anchor':'middle'});
    tick.textContent = t[1];
    
    
  });
});

const cb = document.getElementById('colorbar');
const cbX = 230, cbY = 1002.5, cbW = 54.8, cbH = 23.5;
colorLevels.forEach((c,i)=>{
  const box = make('rect', cb, {x:cbX+i*cbW,y:cbY,width:cbW,height:cbH,fill:c,stroke:'#000','stroke-width':1.4});
  
  
});
colorbarLabels.forEach((t,i)=>{
  const lab = make('text', cb, {x:cbX+(i+1)*cbW,y:1055,'font-size':29,'text-anchor':'middle'});
  lab.textContent = t;
  
  
});
</script>
</body>
</html>
